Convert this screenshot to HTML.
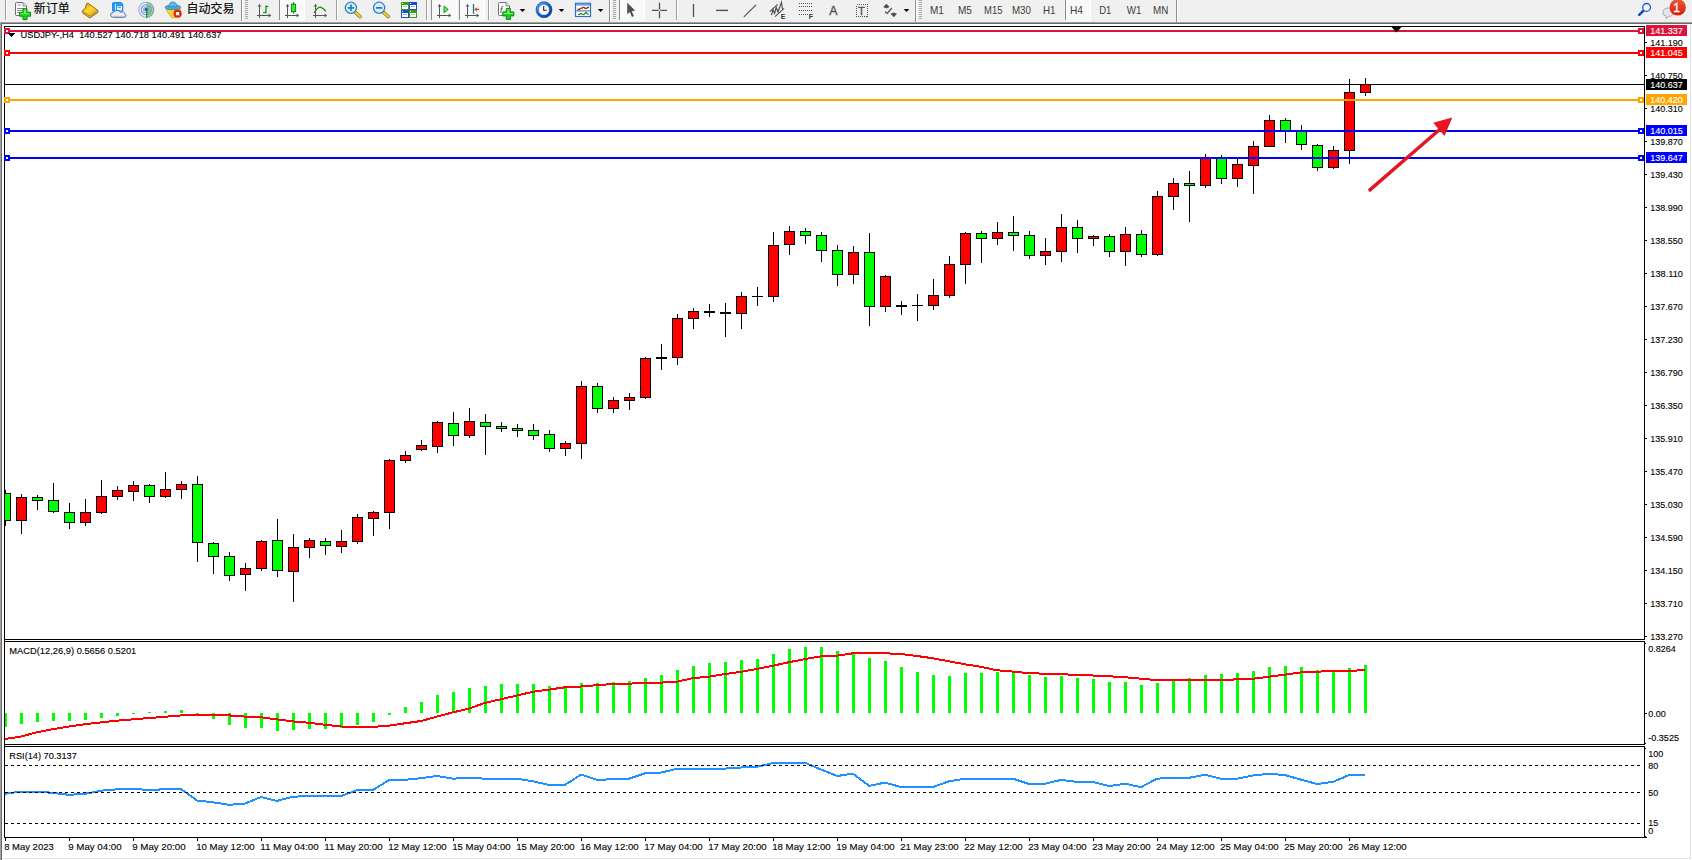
<!DOCTYPE html>
<html lang="zh"><head><meta charset="utf-8"><title>USDJPY H4</title>
<style>html,body{margin:0;padding:0;background:#f0f0f0;width:1692px;height:860px;overflow:hidden}svg{display:block;position:absolute;left:0;top:0}text{font-family:'Liberation Sans', 'Noto Sans CJK SC', sans-serif;}.c{shape-rendering:crispEdges}</style></head><body>
<svg width="1692" height="860" viewBox="0 0 1692 860">
<g class="c">
<rect x="0" y="0" width="1692" height="860" fill="#f0f0f0" />
<rect x="0" y="22" width="1692" height="838" fill="#a0a0a0" />
<rect x="1" y="23" width="1691" height="837" fill="#696969" />
<rect x="2" y="24" width="1690" height="836" fill="#ffffff" />
<rect x="1690" y="24" width="1" height="835" fill="#e3e3e3" />
<rect x="2" y="858" width="1689" height="1" fill="#e3e3e3" />
<rect x="4" y="26" width="1641" height="1" fill="#000" />
<rect x="4" y="26" width="1" height="812" fill="#000" />
<rect x="1644" y="26" width="1" height="812" fill="#000" />
<rect x="4" y="639" width="1641" height="1" fill="#000" />
<rect x="4" y="641" width="1641" height="1" fill="#000" />
<rect x="4" y="744" width="1641" height="1" fill="#000" />
<rect x="4" y="746" width="1641" height="1" fill="#000" />
<rect x="4" y="837" width="1643" height="1" fill="#000" />
<rect x="1645" y="42" width="2" height="1" fill="#000" />
<rect x="1645" y="75" width="2" height="1" fill="#000" />
<rect x="1645" y="108" width="2" height="1" fill="#000" />
<rect x="1645" y="141" width="2" height="1" fill="#000" />
<rect x="1645" y="174" width="2" height="1" fill="#000" />
<rect x="1645" y="207" width="2" height="1" fill="#000" />
<rect x="1645" y="240" width="2" height="1" fill="#000" />
<rect x="1645" y="273" width="2" height="1" fill="#000" />
<rect x="1645" y="306" width="2" height="1" fill="#000" />
<rect x="1645" y="339" width="2" height="1" fill="#000" />
<rect x="1645" y="372" width="2" height="1" fill="#000" />
<rect x="1645" y="405" width="2" height="1" fill="#000" />
<rect x="1645" y="438" width="2" height="1" fill="#000" />
<rect x="1645" y="471" width="2" height="1" fill="#000" />
<rect x="1645" y="504" width="2" height="1" fill="#000" />
<rect x="1645" y="537" width="2" height="1" fill="#000" />
<rect x="1645" y="570" width="2" height="1" fill="#000" />
<rect x="1645" y="603" width="2" height="1" fill="#000" />
<rect x="1645" y="636" width="2" height="1" fill="#000" />
<rect x="1645" y="713" width="2" height="1" fill="#000" />
<rect x="1645" y="643" width="1" height="1" fill="#000" />
<rect x="1645" y="743" width="1" height="1" fill="#000" />
<rect x="1645" y="748" width="1" height="1" fill="#000" />
<rect x="1645" y="836" width="1" height="1" fill="#000" />
<rect x="1644" y="640" width="1" height="1" fill="#fff" />
<rect x="1644" y="745" width="1" height="1" fill="#fff" />
<rect x="5" y="84" width="1639" height="1" fill="#000" />
<rect x="5" y="490" width="1" height="36" fill="#000" />
<rect x="5" y="493" width="6" height="28" fill="#000" />
<rect x="5" y="494" width="5" height="26" fill="#00ff00" />
<rect x="21" y="494" width="1" height="40" fill="#000" />
<rect x="16" y="497" width="11" height="24" fill="#000" />
<rect x="17" y="498" width="9" height="22" fill="#ff0000" />
<rect x="37" y="495" width="1" height="15" fill="#000" />
<rect x="32" y="497" width="11" height="4" fill="#000" />
<rect x="33" y="498" width="9" height="2" fill="#00ff00" />
<rect x="53" y="483" width="1" height="30" fill="#000" />
<rect x="48" y="500" width="11" height="12" fill="#000" />
<rect x="49" y="501" width="9" height="10" fill="#00ff00" />
<rect x="69" y="503" width="1" height="26" fill="#000" />
<rect x="64" y="512" width="11" height="11" fill="#000" />
<rect x="65" y="513" width="9" height="9" fill="#00ff00" />
<rect x="85" y="499" width="1" height="27" fill="#000" />
<rect x="80" y="512" width="11" height="11" fill="#000" />
<rect x="81" y="513" width="9" height="9" fill="#ff0000" />
<rect x="101" y="480" width="1" height="34" fill="#000" />
<rect x="96" y="496" width="11" height="17" fill="#000" />
<rect x="97" y="497" width="9" height="15" fill="#ff0000" />
<rect x="117" y="486" width="1" height="14" fill="#000" />
<rect x="112" y="490" width="11" height="7" fill="#000" />
<rect x="113" y="491" width="9" height="5" fill="#ff0000" />
<rect x="133" y="481" width="1" height="20" fill="#000" />
<rect x="128" y="485" width="11" height="7" fill="#000" />
<rect x="129" y="486" width="9" height="5" fill="#ff0000" />
<rect x="149" y="484" width="1" height="19" fill="#000" />
<rect x="144" y="485" width="11" height="12" fill="#000" />
<rect x="145" y="486" width="9" height="10" fill="#00ff00" />
<rect x="165" y="472" width="1" height="26" fill="#000" />
<rect x="160" y="489" width="11" height="8" fill="#000" />
<rect x="161" y="490" width="9" height="6" fill="#ff0000" />
<rect x="181" y="481" width="1" height="18" fill="#000" />
<rect x="176" y="484" width="11" height="6" fill="#000" />
<rect x="177" y="485" width="9" height="4" fill="#ff0000" />
<rect x="197" y="476" width="1" height="86" fill="#000" />
<rect x="192" y="484" width="11" height="59" fill="#000" />
<rect x="193" y="485" width="9" height="57" fill="#00ff00" />
<rect x="213" y="542" width="1" height="32" fill="#000" />
<rect x="208" y="543" width="11" height="14" fill="#000" />
<rect x="209" y="544" width="9" height="12" fill="#00ff00" />
<rect x="229" y="552" width="1" height="29" fill="#000" />
<rect x="224" y="556" width="11" height="20" fill="#000" />
<rect x="225" y="557" width="9" height="18" fill="#00ff00" />
<rect x="245" y="563" width="1" height="28" fill="#000" />
<rect x="240" y="568" width="11" height="7" fill="#000" />
<rect x="241" y="569" width="9" height="5" fill="#ff0000" />
<rect x="261" y="540" width="1" height="31" fill="#000" />
<rect x="256" y="541" width="11" height="28" fill="#000" />
<rect x="257" y="542" width="9" height="26" fill="#ff0000" />
<rect x="277" y="519" width="1" height="58" fill="#000" />
<rect x="272" y="540" width="11" height="31" fill="#000" />
<rect x="273" y="541" width="9" height="29" fill="#00ff00" />
<rect x="293" y="534" width="1" height="68" fill="#000" />
<rect x="288" y="547" width="11" height="25" fill="#000" />
<rect x="289" y="548" width="9" height="23" fill="#ff0000" />
<rect x="309" y="538" width="1" height="20" fill="#000" />
<rect x="304" y="540" width="11" height="8" fill="#000" />
<rect x="305" y="541" width="9" height="6" fill="#ff0000" />
<rect x="325" y="538" width="1" height="17" fill="#000" />
<rect x="320" y="541" width="11" height="5" fill="#000" />
<rect x="321" y="542" width="9" height="3" fill="#00ff00" />
<rect x="341" y="530" width="1" height="23" fill="#000" />
<rect x="336" y="541" width="11" height="6" fill="#000" />
<rect x="337" y="542" width="9" height="4" fill="#ff0000" />
<rect x="357" y="514" width="1" height="30" fill="#000" />
<rect x="352" y="517" width="11" height="25" fill="#000" />
<rect x="353" y="518" width="9" height="23" fill="#ff0000" />
<rect x="373" y="511" width="1" height="25" fill="#000" />
<rect x="368" y="512" width="11" height="7" fill="#000" />
<rect x="369" y="513" width="9" height="5" fill="#ff0000" />
<rect x="389" y="459" width="1" height="70" fill="#000" />
<rect x="384" y="460" width="11" height="53" fill="#000" />
<rect x="385" y="461" width="9" height="51" fill="#ff0000" />
<rect x="405" y="451" width="1" height="12" fill="#000" />
<rect x="400" y="455" width="11" height="6" fill="#000" />
<rect x="401" y="456" width="9" height="4" fill="#ff0000" />
<rect x="421" y="440" width="1" height="11" fill="#000" />
<rect x="416" y="445" width="11" height="5" fill="#000" />
<rect x="417" y="446" width="9" height="3" fill="#ff0000" />
<rect x="437" y="421" width="1" height="32" fill="#000" />
<rect x="432" y="422" width="11" height="25" fill="#000" />
<rect x="433" y="423" width="9" height="23" fill="#ff0000" />
<rect x="453" y="412" width="1" height="34" fill="#000" />
<rect x="448" y="423" width="11" height="13" fill="#000" />
<rect x="449" y="424" width="9" height="11" fill="#00ff00" />
<rect x="469" y="408" width="1" height="30" fill="#000" />
<rect x="464" y="421" width="11" height="15" fill="#000" />
<rect x="465" y="422" width="9" height="13" fill="#ff0000" />
<rect x="485" y="414" width="1" height="41" fill="#000" />
<rect x="480" y="422" width="11" height="5" fill="#000" />
<rect x="481" y="423" width="9" height="3" fill="#00ff00" />
<rect x="501" y="422" width="1" height="10" fill="#000" />
<rect x="496" y="426" width="11" height="3" fill="#000" />
<rect x="497" y="427" width="9" height="1" fill="#00ff00" />
<rect x="517" y="424" width="1" height="13" fill="#000" />
<rect x="512" y="428" width="11" height="3" fill="#000" />
<rect x="513" y="429" width="9" height="1" fill="#00ff00" />
<rect x="533" y="424" width="1" height="16" fill="#000" />
<rect x="528" y="430" width="11" height="6" fill="#000" />
<rect x="529" y="431" width="9" height="4" fill="#00ff00" />
<rect x="549" y="430" width="1" height="22" fill="#000" />
<rect x="544" y="434" width="11" height="15" fill="#000" />
<rect x="545" y="435" width="9" height="13" fill="#00ff00" />
<rect x="565" y="441" width="1" height="15" fill="#000" />
<rect x="560" y="443" width="11" height="6" fill="#000" />
<rect x="561" y="444" width="9" height="4" fill="#ff0000" />
<rect x="581" y="381" width="1" height="78" fill="#000" />
<rect x="576" y="386" width="11" height="58" fill="#000" />
<rect x="577" y="387" width="9" height="56" fill="#ff0000" />
<rect x="597" y="383" width="1" height="30" fill="#000" />
<rect x="592" y="386" width="11" height="23" fill="#000" />
<rect x="593" y="387" width="9" height="21" fill="#00ff00" />
<rect x="613" y="397" width="1" height="16" fill="#000" />
<rect x="608" y="400" width="11" height="9" fill="#000" />
<rect x="609" y="401" width="9" height="7" fill="#ff0000" />
<rect x="629" y="393" width="1" height="17" fill="#000" />
<rect x="624" y="397" width="11" height="4" fill="#000" />
<rect x="625" y="398" width="9" height="2" fill="#ff0000" />
<rect x="645" y="357" width="1" height="42" fill="#000" />
<rect x="640" y="358" width="11" height="40" fill="#000" />
<rect x="641" y="359" width="9" height="38" fill="#ff0000" />
<rect x="661" y="344" width="1" height="26" fill="#000" />
<rect x="656" y="357" width="11" height="2" fill="#000" />
<rect x="677" y="314" width="1" height="51" fill="#000" />
<rect x="672" y="318" width="11" height="40" fill="#000" />
<rect x="673" y="319" width="9" height="38" fill="#ff0000" />
<rect x="693" y="308" width="1" height="21" fill="#000" />
<rect x="688" y="311" width="11" height="8" fill="#000" />
<rect x="689" y="312" width="9" height="6" fill="#ff0000" />
<rect x="709" y="304" width="1" height="13" fill="#000" />
<rect x="704" y="311" width="11" height="2" fill="#000" />
<rect x="725" y="303" width="1" height="34" fill="#000" />
<rect x="720" y="312" width="11" height="2" fill="#000" />
<rect x="741" y="292" width="1" height="37" fill="#000" />
<rect x="736" y="296" width="11" height="18" fill="#000" />
<rect x="737" y="297" width="9" height="16" fill="#ff0000" />
<rect x="757" y="287" width="1" height="19" fill="#000" />
<rect x="752" y="296" width="11" height="1" fill="#000" />
<rect x="773" y="232" width="1" height="70" fill="#000" />
<rect x="768" y="245" width="11" height="52" fill="#000" />
<rect x="769" y="246" width="9" height="50" fill="#ff0000" />
<rect x="789" y="226" width="1" height="29" fill="#000" />
<rect x="784" y="231" width="11" height="14" fill="#000" />
<rect x="785" y="232" width="9" height="12" fill="#ff0000" />
<rect x="805" y="228" width="1" height="16" fill="#000" />
<rect x="800" y="231" width="11" height="5" fill="#000" />
<rect x="801" y="232" width="9" height="3" fill="#00ff00" />
<rect x="821" y="232" width="1" height="30" fill="#000" />
<rect x="816" y="235" width="11" height="16" fill="#000" />
<rect x="817" y="236" width="9" height="14" fill="#00ff00" />
<rect x="837" y="245" width="1" height="41" fill="#000" />
<rect x="832" y="250" width="11" height="25" fill="#000" />
<rect x="833" y="251" width="9" height="23" fill="#00ff00" />
<rect x="853" y="246" width="1" height="38" fill="#000" />
<rect x="848" y="252" width="11" height="23" fill="#000" />
<rect x="849" y="253" width="9" height="21" fill="#ff0000" />
<rect x="869" y="233" width="1" height="93" fill="#000" />
<rect x="864" y="252" width="11" height="55" fill="#000" />
<rect x="865" y="253" width="9" height="53" fill="#00ff00" />
<rect x="885" y="275" width="1" height="37" fill="#000" />
<rect x="880" y="276" width="11" height="31" fill="#000" />
<rect x="881" y="277" width="9" height="29" fill="#ff0000" />
<rect x="901" y="301" width="1" height="14" fill="#000" />
<rect x="896" y="305" width="11" height="2" fill="#000" />
<rect x="917" y="294" width="1" height="27" fill="#000" />
<rect x="912" y="305" width="11" height="1" fill="#000" />
<rect x="933" y="279" width="1" height="31" fill="#000" />
<rect x="928" y="295" width="11" height="11" fill="#000" />
<rect x="929" y="296" width="9" height="9" fill="#ff0000" />
<rect x="949" y="256" width="1" height="42" fill="#000" />
<rect x="944" y="264" width="11" height="32" fill="#000" />
<rect x="945" y="265" width="9" height="30" fill="#ff0000" />
<rect x="965" y="232" width="1" height="52" fill="#000" />
<rect x="960" y="233" width="11" height="32" fill="#000" />
<rect x="961" y="234" width="9" height="30" fill="#ff0000" />
<rect x="981" y="231" width="1" height="32" fill="#000" />
<rect x="976" y="233" width="11" height="6" fill="#000" />
<rect x="977" y="234" width="9" height="4" fill="#00ff00" />
<rect x="997" y="222" width="1" height="23" fill="#000" />
<rect x="992" y="232" width="11" height="7" fill="#000" />
<rect x="993" y="233" width="9" height="5" fill="#ff0000" />
<rect x="1013" y="216" width="1" height="35" fill="#000" />
<rect x="1008" y="232" width="11" height="4" fill="#000" />
<rect x="1009" y="233" width="9" height="2" fill="#00ff00" />
<rect x="1029" y="231" width="1" height="28" fill="#000" />
<rect x="1024" y="235" width="11" height="21" fill="#000" />
<rect x="1025" y="236" width="9" height="19" fill="#00ff00" />
<rect x="1045" y="238" width="1" height="27" fill="#000" />
<rect x="1040" y="251" width="11" height="5" fill="#000" />
<rect x="1041" y="252" width="9" height="3" fill="#ff0000" />
<rect x="1061" y="214" width="1" height="48" fill="#000" />
<rect x="1056" y="227" width="11" height="25" fill="#000" />
<rect x="1057" y="228" width="9" height="23" fill="#ff0000" />
<rect x="1077" y="220" width="1" height="33" fill="#000" />
<rect x="1072" y="227" width="11" height="12" fill="#000" />
<rect x="1073" y="228" width="9" height="10" fill="#00ff00" />
<rect x="1093" y="235" width="1" height="11" fill="#000" />
<rect x="1088" y="236" width="11" height="3" fill="#000" />
<rect x="1089" y="237" width="9" height="1" fill="#ff0000" />
<rect x="1109" y="234" width="1" height="23" fill="#000" />
<rect x="1104" y="236" width="11" height="16" fill="#000" />
<rect x="1105" y="237" width="9" height="14" fill="#00ff00" />
<rect x="1125" y="227" width="1" height="39" fill="#000" />
<rect x="1120" y="234" width="11" height="18" fill="#000" />
<rect x="1121" y="235" width="9" height="16" fill="#ff0000" />
<rect x="1141" y="230" width="1" height="27" fill="#000" />
<rect x="1136" y="234" width="11" height="21" fill="#000" />
<rect x="1137" y="235" width="9" height="19" fill="#00ff00" />
<rect x="1157" y="191" width="1" height="65" fill="#000" />
<rect x="1152" y="196" width="11" height="59" fill="#000" />
<rect x="1153" y="197" width="9" height="57" fill="#ff0000" />
<rect x="1173" y="178" width="1" height="32" fill="#000" />
<rect x="1168" y="183" width="11" height="14" fill="#000" />
<rect x="1169" y="184" width="9" height="12" fill="#ff0000" />
<rect x="1189" y="171" width="1" height="51" fill="#000" />
<rect x="1184" y="183" width="11" height="3" fill="#000" />
<rect x="1185" y="184" width="9" height="1" fill="#00ff00" />
<rect x="1205" y="154" width="1" height="34" fill="#000" />
<rect x="1200" y="157" width="11" height="29" fill="#000" />
<rect x="1201" y="158" width="9" height="27" fill="#ff0000" />
<rect x="1221" y="155" width="1" height="29" fill="#000" />
<rect x="1216" y="157" width="11" height="22" fill="#000" />
<rect x="1217" y="158" width="9" height="20" fill="#00ff00" />
<rect x="1237" y="159" width="1" height="28" fill="#000" />
<rect x="1232" y="164" width="11" height="15" fill="#000" />
<rect x="1233" y="165" width="9" height="13" fill="#ff0000" />
<rect x="1253" y="141" width="1" height="53" fill="#000" />
<rect x="1248" y="146" width="11" height="20" fill="#000" />
<rect x="1249" y="147" width="9" height="18" fill="#ff0000" />
<rect x="1269" y="115" width="1" height="32" fill="#000" />
<rect x="1264" y="120" width="11" height="27" fill="#000" />
<rect x="1265" y="121" width="9" height="25" fill="#ff0000" />
<rect x="1285" y="118" width="1" height="25" fill="#000" />
<rect x="1280" y="120" width="11" height="12" fill="#000" />
<rect x="1281" y="121" width="9" height="10" fill="#00ff00" />
<rect x="1301" y="125" width="1" height="25" fill="#000" />
<rect x="1296" y="130" width="11" height="15" fill="#000" />
<rect x="1297" y="131" width="9" height="13" fill="#00ff00" />
<rect x="1317" y="144" width="1" height="27" fill="#000" />
<rect x="1312" y="145" width="11" height="23" fill="#000" />
<rect x="1313" y="146" width="9" height="21" fill="#00ff00" />
<rect x="1333" y="146" width="1" height="23" fill="#000" />
<rect x="1328" y="150" width="11" height="18" fill="#000" />
<rect x="1329" y="151" width="9" height="16" fill="#ff0000" />
<rect x="1349" y="79" width="1" height="85" fill="#000" />
<rect x="1344" y="92" width="11" height="59" fill="#000" />
<rect x="1345" y="93" width="9" height="57" fill="#ff0000" />
<rect x="1365" y="78" width="1" height="18" fill="#000" />
<rect x="1360" y="84" width="11" height="9" fill="#000" />
<rect x="1361" y="85" width="9" height="7" fill="#ff0000" />
</g>
<text x="20.5" y="38" font-size="9.8" fill="#000" stroke="#000" stroke-width="0.12" text-anchor="start" textLength="201" lengthAdjust="spacingAndGlyphs" >USDJPY-,H4&#160; 140.527 140.718 140.491 140.637</text>
<g class="c">
<rect x="5" y="30" width="1639" height="2" fill="#dc143c" />
<rect x="4" y="28" width="6" height="6" fill="#dc143c" />
<rect x="6" y="30" width="2" height="2" fill="#fff" />
<rect x="1638" y="28" width="6" height="6" fill="#dc143c" />
<rect x="1640" y="30" width="2" height="2" fill="#fff" />
<rect x="1646" y="25" width="41" height="11" fill="#dc143c" />
<rect x="5" y="52" width="1639" height="2" fill="#ff0000" />
<rect x="4" y="50" width="6" height="6" fill="#ff0000" />
<rect x="6" y="52" width="2" height="2" fill="#fff" />
<rect x="1638" y="50" width="6" height="6" fill="#ff0000" />
<rect x="1640" y="52" width="2" height="2" fill="#fff" />
<rect x="1646" y="47" width="41" height="11" fill="#ff0000" />
<rect x="5" y="99" width="1639" height="2" fill="#ffa500" />
<rect x="4" y="97" width="6" height="6" fill="#ffa500" />
<rect x="6" y="99" width="2" height="2" fill="#fff" />
<rect x="1638" y="97" width="6" height="6" fill="#ffa500" />
<rect x="1640" y="99" width="2" height="2" fill="#fff" />
<rect x="1646" y="94" width="41" height="11" fill="#ffa500" />
<rect x="5" y="130" width="1639" height="2" fill="#0000ff" />
<rect x="4" y="128" width="6" height="6" fill="#0000ff" />
<rect x="6" y="130" width="2" height="2" fill="#fff" />
<rect x="1638" y="128" width="6" height="6" fill="#0000ff" />
<rect x="1640" y="130" width="2" height="2" fill="#fff" />
<rect x="1646" y="125" width="41" height="11" fill="#0000ff" />
<rect x="5" y="157" width="1639" height="2" fill="#0000ff" />
<rect x="4" y="155" width="6" height="6" fill="#0000ff" />
<rect x="6" y="157" width="2" height="2" fill="#fff" />
<rect x="1638" y="155" width="6" height="6" fill="#0000ff" />
<rect x="1640" y="157" width="2" height="2" fill="#fff" />
<rect x="1646" y="152" width="41" height="11" fill="#0000ff" />
<rect x="1646" y="79" width="41" height="11" fill="#000" />
<polygon points="1391.5,27 1401.5,27 1396.5,32.5" fill="#000" shape-rendering="auto"/>
<polygon points="8,33 15,33 11.5,37" fill="#000"/>
<rect x="5" y="713" width="2" height="14" fill="#00ff00" />
<rect x="20" y="713" width="3" height="11" fill="#00ff00" />
<rect x="36" y="713" width="3" height="9" fill="#00ff00" />
<rect x="52" y="713" width="3" height="8" fill="#00ff00" />
<rect x="68" y="713" width="3" height="8" fill="#00ff00" />
<rect x="84" y="713" width="3" height="7" fill="#00ff00" />
<rect x="100" y="713" width="3" height="5" fill="#00ff00" />
<rect x="116" y="713" width="3" height="3" fill="#00ff00" />
<rect x="132" y="713" width="3" height="1" fill="#00ff00" />
<rect x="148" y="712" width="3" height="1" fill="#00ff00" />
<rect x="164" y="711" width="3" height="2" fill="#00ff00" />
<rect x="180" y="710" width="3" height="3" fill="#00ff00" />
<rect x="196" y="713" width="3" height="1" fill="#00ff00" />
<rect x="212" y="713" width="3" height="6" fill="#00ff00" />
<rect x="228" y="713" width="3" height="12" fill="#00ff00" />
<rect x="244" y="713" width="3" height="15" fill="#00ff00" />
<rect x="260" y="713" width="3" height="15" fill="#00ff00" />
<rect x="276" y="713" width="3" height="18" fill="#00ff00" />
<rect x="292" y="713" width="3" height="17" fill="#00ff00" />
<rect x="308" y="713" width="3" height="16" fill="#00ff00" />
<rect x="324" y="713" width="3" height="16" fill="#00ff00" />
<rect x="340" y="713" width="3" height="15" fill="#00ff00" />
<rect x="356" y="713" width="3" height="12" fill="#00ff00" />
<rect x="372" y="713" width="3" height="9" fill="#00ff00" />
<rect x="388" y="713" width="3" height="2" fill="#00ff00" />
<rect x="404" y="707" width="3" height="6" fill="#00ff00" />
<rect x="420" y="702" width="3" height="11" fill="#00ff00" />
<rect x="436" y="695" width="3" height="18" fill="#00ff00" />
<rect x="452" y="692" width="3" height="21" fill="#00ff00" />
<rect x="468" y="688" width="3" height="25" fill="#00ff00" />
<rect x="484" y="686" width="3" height="27" fill="#00ff00" />
<rect x="500" y="684" width="3" height="29" fill="#00ff00" />
<rect x="516" y="684" width="3" height="29" fill="#00ff00" />
<rect x="532" y="684" width="3" height="29" fill="#00ff00" />
<rect x="548" y="686" width="3" height="27" fill="#00ff00" />
<rect x="564" y="687" width="3" height="26" fill="#00ff00" />
<rect x="580" y="683" width="3" height="30" fill="#00ff00" />
<rect x="596" y="683" width="3" height="30" fill="#00ff00" />
<rect x="612" y="682" width="3" height="31" fill="#00ff00" />
<rect x="628" y="681" width="3" height="32" fill="#00ff00" />
<rect x="644" y="678" width="3" height="35" fill="#00ff00" />
<rect x="660" y="675" width="3" height="38" fill="#00ff00" />
<rect x="676" y="670" width="3" height="43" fill="#00ff00" />
<rect x="692" y="666" width="3" height="47" fill="#00ff00" />
<rect x="708" y="663" width="3" height="50" fill="#00ff00" />
<rect x="724" y="662" width="3" height="51" fill="#00ff00" />
<rect x="740" y="660" width="3" height="53" fill="#00ff00" />
<rect x="756" y="659" width="3" height="54" fill="#00ff00" />
<rect x="772" y="654" width="3" height="59" fill="#00ff00" />
<rect x="788" y="649" width="3" height="64" fill="#00ff00" />
<rect x="804" y="647" width="3" height="66" fill="#00ff00" />
<rect x="820" y="647" width="3" height="66" fill="#00ff00" />
<rect x="836" y="651" width="3" height="62" fill="#00ff00" />
<rect x="852" y="652" width="3" height="61" fill="#00ff00" />
<rect x="868" y="658" width="3" height="55" fill="#00ff00" />
<rect x="884" y="661" width="3" height="52" fill="#00ff00" />
<rect x="900" y="667" width="3" height="46" fill="#00ff00" />
<rect x="916" y="672" width="3" height="41" fill="#00ff00" />
<rect x="932" y="675" width="3" height="38" fill="#00ff00" />
<rect x="948" y="676" width="3" height="37" fill="#00ff00" />
<rect x="964" y="673" width="3" height="40" fill="#00ff00" />
<rect x="980" y="673" width="3" height="40" fill="#00ff00" />
<rect x="996" y="672" width="3" height="41" fill="#00ff00" />
<rect x="1012" y="672" width="3" height="41" fill="#00ff00" />
<rect x="1028" y="675" width="3" height="38" fill="#00ff00" />
<rect x="1044" y="677" width="3" height="36" fill="#00ff00" />
<rect x="1060" y="676" width="3" height="37" fill="#00ff00" />
<rect x="1076" y="678" width="3" height="35" fill="#00ff00" />
<rect x="1092" y="679" width="3" height="34" fill="#00ff00" />
<rect x="1108" y="682" width="3" height="31" fill="#00ff00" />
<rect x="1124" y="682" width="3" height="31" fill="#00ff00" />
<rect x="1140" y="685" width="3" height="28" fill="#00ff00" />
<rect x="1156" y="683" width="3" height="30" fill="#00ff00" />
<rect x="1172" y="681" width="3" height="32" fill="#00ff00" />
<rect x="1188" y="678" width="3" height="35" fill="#00ff00" />
<rect x="1204" y="675" width="3" height="38" fill="#00ff00" />
<rect x="1220" y="674" width="3" height="39" fill="#00ff00" />
<rect x="1236" y="673" width="3" height="40" fill="#00ff00" />
<rect x="1252" y="671" width="3" height="42" fill="#00ff00" />
<rect x="1268" y="667" width="3" height="46" fill="#00ff00" />
<rect x="1284" y="666" width="3" height="47" fill="#00ff00" />
<rect x="1300" y="667" width="3" height="46" fill="#00ff00" />
<rect x="1316" y="670" width="3" height="43" fill="#00ff00" />
<rect x="1332" y="671" width="3" height="42" fill="#00ff00" />
<rect x="1348" y="668" width="3" height="45" fill="#00ff00" />
<rect x="1364" y="665" width="3" height="48" fill="#00ff00" />
<polyline points="5,738.9 21,736.6 37,732.2 53,729.2 69,726.5 85,724.2 101,722.4 117,720.7 133,719.3 149,718.0 165,716.8 181,715.4 197,715.0 213,715.0 229,715.4 245,716.6 261,717.3 277,719.4 293,721.4 309,722.8 325,724.8 341,726.5 357,726.9 373,726.9 389,725.6 405,723.3 421,721.0 437,716.6 453,712.3 469,708.6 485,702.9 501,699.2 517,695.5 533,691.8 549,689.6 565,687.3 581,686.5 597,685.2 613,684.0 629,683.6 645,683.1 661,682.6 677,681.7 693,678.1 709,676.7 725,674.0 741,671.9 757,668.9 773,665.7 789,662.2 805,659.1 821,656.3 837,655.6 853,653.3 869,652.9 885,653.3 901,654.0 917,656.0 933,658.3 949,661.3 965,664.3 981,666.8 997,670.3 1013,671.6 1029,673.2 1045,673.7 1061,674.2 1077,674.9 1093,675.5 1109,676.3 1125,677.2 1141,678.7 1157,680.1 1173,680.1 1189,680.1 1205,679.9 1221,679.9 1237,679.4 1253,678.7 1269,676.7 1285,674.6 1301,672.4 1317,671.6 1333,671.2 1349,671.0 1365,670.0" fill="none" stroke="#ff0000" stroke-width="2" stroke-linejoin="round"/>
<polyline points="5,793.8 21,791.5 37,791.5 53,792.9 69,794.8 85,793.8 101,790.7 117,789.3 133,789.0 149,789.9 165,789.3 181,789.0 197,800.5 213,802.3 229,804.8 245,803.5 261,797.0 277,800.9 293,796.7 309,796.1 325,796.1 341,796.1 357,790.2 373,789.9 389,780.1 405,779.8 421,778.2 437,776.0 453,778.7 469,777.8 485,778.7 501,778.7 517,778.7 533,781.3 549,784.9 565,784.9 581,774.6 597,779.9 613,779.2 629,778.7 645,773.4 661,772.5 677,768.9 693,768.6 709,768.6 725,768.6 741,767.5 757,766.8 773,763.1 789,762.7 805,762.7 821,769.5 837,776.0 853,773.7 869,785.9 885,782.6 901,787.0 917,787.0 933,787.0 949,781.3 965,778.7 981,778.7 997,778.7 1013,778.7 1029,784.0 1045,783.7 1061,779.9 1077,781.9 1093,781.9 1109,786.1 1125,783.7 1141,787.2 1157,778.7 1173,777.8 1189,777.8 1205,774.8 1221,778.7 1237,778.7 1253,775.5 1269,773.7 1285,775.1 1301,779.6 1317,784.0 1333,781.9 1349,775.1 1365,775.1" fill="none" stroke="#1e90ff" stroke-width="2" stroke-linejoin="round"/>
<line x1="5" y1="765.5" x2="1642" y2="765.5" stroke="#000" stroke-width="1" stroke-dasharray="3 3"/>
<line x1="5" y1="792.5" x2="1642" y2="792.5" stroke="#000" stroke-width="1" stroke-dasharray="3 3"/>
<line x1="5" y1="823.5" x2="1642" y2="823.5" stroke="#000" stroke-width="1" stroke-dasharray="3 3"/>
<rect x="5" y="838" width="1" height="3" fill="#000" />
<rect x="69" y="838" width="1" height="3" fill="#000" />
<rect x="133" y="838" width="1" height="3" fill="#000" />
<rect x="197" y="838" width="1" height="3" fill="#000" />
<rect x="261" y="838" width="1" height="3" fill="#000" />
<rect x="325" y="838" width="1" height="3" fill="#000" />
<rect x="389" y="838" width="1" height="3" fill="#000" />
<rect x="453" y="838" width="1" height="3" fill="#000" />
<rect x="517" y="838" width="1" height="3" fill="#000" />
<rect x="581" y="838" width="1" height="3" fill="#000" />
<rect x="645" y="838" width="1" height="3" fill="#000" />
<rect x="709" y="838" width="1" height="3" fill="#000" />
<rect x="773" y="838" width="1" height="3" fill="#000" />
<rect x="837" y="838" width="1" height="3" fill="#000" />
<rect x="901" y="838" width="1" height="3" fill="#000" />
<rect x="965" y="838" width="1" height="3" fill="#000" />
<rect x="1029" y="838" width="1" height="3" fill="#000" />
<rect x="1093" y="838" width="1" height="3" fill="#000" />
<rect x="1157" y="838" width="1" height="3" fill="#000" />
<rect x="1221" y="838" width="1" height="3" fill="#000" />
<rect x="1285" y="838" width="1" height="3" fill="#000" />
<rect x="1349" y="838" width="1" height="3" fill="#000" />
</g>
<g fill="#e8141e" stroke="none"><polygon points="1367.7,189.6 1369.9,192.2 1441.6,130.1 1439.4,127.5"/><polygon points="1452.3,117.5 1433.2,122.8 1444.5,135.9"/></g>
<text x="1650.3" y="45.8" font-size="9.8" fill="#000" stroke="#000" stroke-width="0.12" text-anchor="start" textLength="32.6" lengthAdjust="spacingAndGlyphs" >141.190</text>
<text x="1650.3" y="78.8" font-size="9.8" fill="#000" stroke="#000" stroke-width="0.12" text-anchor="start" textLength="32.6" lengthAdjust="spacingAndGlyphs" >140.750</text>
<text x="1650.3" y="111.8" font-size="9.8" fill="#000" stroke="#000" stroke-width="0.12" text-anchor="start" textLength="32.6" lengthAdjust="spacingAndGlyphs" >140.310</text>
<text x="1650.3" y="144.8" font-size="9.8" fill="#000" stroke="#000" stroke-width="0.12" text-anchor="start" textLength="32.6" lengthAdjust="spacingAndGlyphs" >139.870</text>
<text x="1650.3" y="177.8" font-size="9.8" fill="#000" stroke="#000" stroke-width="0.12" text-anchor="start" textLength="32.6" lengthAdjust="spacingAndGlyphs" >139.430</text>
<text x="1650.3" y="210.8" font-size="9.8" fill="#000" stroke="#000" stroke-width="0.12" text-anchor="start" textLength="32.6" lengthAdjust="spacingAndGlyphs" >138.990</text>
<text x="1650.3" y="243.8" font-size="9.8" fill="#000" stroke="#000" stroke-width="0.12" text-anchor="start" textLength="32.6" lengthAdjust="spacingAndGlyphs" >138.550</text>
<text x="1650.3" y="276.8" font-size="9.8" fill="#000" stroke="#000" stroke-width="0.12" text-anchor="start" textLength="32.6" lengthAdjust="spacingAndGlyphs" >138.110</text>
<text x="1650.3" y="309.8" font-size="9.8" fill="#000" stroke="#000" stroke-width="0.12" text-anchor="start" textLength="32.6" lengthAdjust="spacingAndGlyphs" >137.670</text>
<text x="1650.3" y="342.8" font-size="9.8" fill="#000" stroke="#000" stroke-width="0.12" text-anchor="start" textLength="32.6" lengthAdjust="spacingAndGlyphs" >137.230</text>
<text x="1650.3" y="375.8" font-size="9.8" fill="#000" stroke="#000" stroke-width="0.12" text-anchor="start" textLength="32.6" lengthAdjust="spacingAndGlyphs" >136.790</text>
<text x="1650.3" y="408.8" font-size="9.8" fill="#000" stroke="#000" stroke-width="0.12" text-anchor="start" textLength="32.6" lengthAdjust="spacingAndGlyphs" >136.350</text>
<text x="1650.3" y="441.8" font-size="9.8" fill="#000" stroke="#000" stroke-width="0.12" text-anchor="start" textLength="32.6" lengthAdjust="spacingAndGlyphs" >135.910</text>
<text x="1650.3" y="474.8" font-size="9.8" fill="#000" stroke="#000" stroke-width="0.12" text-anchor="start" textLength="32.6" lengthAdjust="spacingAndGlyphs" >135.470</text>
<text x="1650.3" y="507.8" font-size="9.8" fill="#000" stroke="#000" stroke-width="0.12" text-anchor="start" textLength="32.6" lengthAdjust="spacingAndGlyphs" >135.030</text>
<text x="1650.3" y="540.8" font-size="9.8" fill="#000" stroke="#000" stroke-width="0.12" text-anchor="start" textLength="32.6" lengthAdjust="spacingAndGlyphs" >134.590</text>
<text x="1650.3" y="573.8" font-size="9.8" fill="#000" stroke="#000" stroke-width="0.12" text-anchor="start" textLength="32.6" lengthAdjust="spacingAndGlyphs" >134.150</text>
<text x="1650.3" y="606.8" font-size="9.8" fill="#000" stroke="#000" stroke-width="0.12" text-anchor="start" textLength="32.6" lengthAdjust="spacingAndGlyphs" >133.710</text>
<text x="1650.3" y="639.8" font-size="9.8" fill="#000" stroke="#000" stroke-width="0.12" text-anchor="start" textLength="32.6" lengthAdjust="spacingAndGlyphs" >133.270</text>
<g class="c">
<rect x="1646" y="25" width="41" height="11" fill="#dc143c" />
<rect x="1646" y="47" width="41" height="11" fill="#ff0000" />
<rect x="1646" y="94" width="41" height="11" fill="#ffa500" />
<rect x="1646" y="125" width="41" height="11" fill="#0000ff" />
<rect x="1646" y="152" width="41" height="11" fill="#0000ff" />
<rect x="1646" y="79" width="41" height="11" fill="#000" />
</g>
<text x="1650.3" y="34.2" font-size="9.8" fill="#fff" stroke="#fff" stroke-width="0.12" text-anchor="start" textLength="32.6" lengthAdjust="spacingAndGlyphs" >141.337</text>
<text x="1650.3" y="56.2" font-size="9.8" fill="#fff" stroke="#fff" stroke-width="0.12" text-anchor="start" textLength="32.6" lengthAdjust="spacingAndGlyphs" >141.045</text>
<text x="1650.3" y="103.2" font-size="9.8" fill="#fff" stroke="#fff" stroke-width="0.12" text-anchor="start" textLength="32.6" lengthAdjust="spacingAndGlyphs" >140.420</text>
<text x="1650.3" y="134.2" font-size="9.8" fill="#fff" stroke="#fff" stroke-width="0.12" text-anchor="start" textLength="32.6" lengthAdjust="spacingAndGlyphs" >140.015</text>
<text x="1650.3" y="161.2" font-size="9.8" fill="#fff" stroke="#fff" stroke-width="0.12" text-anchor="start" textLength="32.6" lengthAdjust="spacingAndGlyphs" >139.647</text>
<text x="1650.3" y="87.8" font-size="9.8" fill="#fff" stroke="#fff" stroke-width="0.12" text-anchor="start" textLength="32.6" lengthAdjust="spacingAndGlyphs" >140.637</text>
<text x="9.3" y="653.8" font-size="9.8" fill="#000" stroke="#000" stroke-width="0.12" text-anchor="start" textLength="127" lengthAdjust="spacingAndGlyphs" >MACD(12,26,9) 0.5656 0.5201</text>
<text x="9.3" y="758.8" font-size="9.8" fill="#000" stroke="#000" stroke-width="0.12" text-anchor="start" textLength="67.5" lengthAdjust="spacingAndGlyphs" >RSI(14) 70.3137</text>
<text x="1648.2" y="652" font-size="9.8" fill="#000" stroke="#000" stroke-width="0.12" text-anchor="start" textLength="27.6" lengthAdjust="spacingAndGlyphs" >0.8264</text>
<text x="1648.2" y="716.6" font-size="9.8" fill="#000" stroke="#000" stroke-width="0.12" text-anchor="start" textLength="17.6" lengthAdjust="spacingAndGlyphs" >0.00</text>
<text x="1648.2" y="741" font-size="9.8" fill="#000" stroke="#000" stroke-width="0.12" text-anchor="start" textLength="30.8" lengthAdjust="spacingAndGlyphs" >-0.3525</text>
<text x="1648.2" y="757" font-size="9.8" fill="#000" stroke="#000" stroke-width="0.12" text-anchor="start" textLength="15" lengthAdjust="spacingAndGlyphs" >100</text>
<text x="1648.2" y="769" font-size="9.8" fill="#000" stroke="#000" stroke-width="0.12" text-anchor="start" textLength="10" lengthAdjust="spacingAndGlyphs" >80</text>
<text x="1648.2" y="795.6" font-size="9.8" fill="#000" stroke="#000" stroke-width="0.12" text-anchor="start" textLength="10" lengthAdjust="spacingAndGlyphs" >50</text>
<text x="1648.2" y="826.2" font-size="9.8" fill="#000" stroke="#000" stroke-width="0.12" text-anchor="start" textLength="10" lengthAdjust="spacingAndGlyphs" >15</text>
<text x="1648.2" y="834" font-size="9.8" fill="#000" stroke="#000" stroke-width="0.12" text-anchor="start" textLength="5" lengthAdjust="spacingAndGlyphs" >0</text>
<text x="4.2" y="849.7" font-size="9.8" fill="#000" stroke="#000" stroke-width="0.12" text-anchor="start" textLength="49.5" lengthAdjust="spacingAndGlyphs" >8 May 2023</text>
<text x="68.2" y="849.7" font-size="9.8" fill="#000" stroke="#000" stroke-width="0.12" text-anchor="start" textLength="53.5" lengthAdjust="spacingAndGlyphs" >9 May 04:00</text>
<text x="132.2" y="849.7" font-size="9.8" fill="#000" stroke="#000" stroke-width="0.12" text-anchor="start" textLength="53.5" lengthAdjust="spacingAndGlyphs" >9 May 20:00</text>
<text x="196.2" y="849.7" font-size="9.8" fill="#000" stroke="#000" stroke-width="0.12" text-anchor="start" textLength="58.5" lengthAdjust="spacingAndGlyphs" >10 May 12:00</text>
<text x="260.2" y="849.7" font-size="9.8" fill="#000" stroke="#000" stroke-width="0.12" text-anchor="start" textLength="58.5" lengthAdjust="spacingAndGlyphs" >11 May 04:00</text>
<text x="324.2" y="849.7" font-size="9.8" fill="#000" stroke="#000" stroke-width="0.12" text-anchor="start" textLength="58.5" lengthAdjust="spacingAndGlyphs" >11 May 20:00</text>
<text x="388.2" y="849.7" font-size="9.8" fill="#000" stroke="#000" stroke-width="0.12" text-anchor="start" textLength="58.5" lengthAdjust="spacingAndGlyphs" >12 May 12:00</text>
<text x="452.2" y="849.7" font-size="9.8" fill="#000" stroke="#000" stroke-width="0.12" text-anchor="start" textLength="58.5" lengthAdjust="spacingAndGlyphs" >15 May 04:00</text>
<text x="516.2" y="849.7" font-size="9.8" fill="#000" stroke="#000" stroke-width="0.12" text-anchor="start" textLength="58.5" lengthAdjust="spacingAndGlyphs" >15 May 20:00</text>
<text x="580.2" y="849.7" font-size="9.8" fill="#000" stroke="#000" stroke-width="0.12" text-anchor="start" textLength="58.5" lengthAdjust="spacingAndGlyphs" >16 May 12:00</text>
<text x="644.2" y="849.7" font-size="9.8" fill="#000" stroke="#000" stroke-width="0.12" text-anchor="start" textLength="58.5" lengthAdjust="spacingAndGlyphs" >17 May 04:00</text>
<text x="708.2" y="849.7" font-size="9.8" fill="#000" stroke="#000" stroke-width="0.12" text-anchor="start" textLength="58.5" lengthAdjust="spacingAndGlyphs" >17 May 20:00</text>
<text x="772.2" y="849.7" font-size="9.8" fill="#000" stroke="#000" stroke-width="0.12" text-anchor="start" textLength="58.5" lengthAdjust="spacingAndGlyphs" >18 May 12:00</text>
<text x="836.2" y="849.7" font-size="9.8" fill="#000" stroke="#000" stroke-width="0.12" text-anchor="start" textLength="58.5" lengthAdjust="spacingAndGlyphs" >19 May 04:00</text>
<text x="900.2" y="849.7" font-size="9.8" fill="#000" stroke="#000" stroke-width="0.12" text-anchor="start" textLength="58.5" lengthAdjust="spacingAndGlyphs" >21 May 23:00</text>
<text x="964.2" y="849.7" font-size="9.8" fill="#000" stroke="#000" stroke-width="0.12" text-anchor="start" textLength="58.5" lengthAdjust="spacingAndGlyphs" >22 May 12:00</text>
<text x="1028.2" y="849.7" font-size="9.8" fill="#000" stroke="#000" stroke-width="0.12" text-anchor="start" textLength="58.5" lengthAdjust="spacingAndGlyphs" >23 May 04:00</text>
<text x="1092.2" y="849.7" font-size="9.8" fill="#000" stroke="#000" stroke-width="0.12" text-anchor="start" textLength="58.5" lengthAdjust="spacingAndGlyphs" >23 May 20:00</text>
<text x="1156.2" y="849.7" font-size="9.8" fill="#000" stroke="#000" stroke-width="0.12" text-anchor="start" textLength="58.5" lengthAdjust="spacingAndGlyphs" >24 May 12:00</text>
<text x="1220.2" y="849.7" font-size="9.8" fill="#000" stroke="#000" stroke-width="0.12" text-anchor="start" textLength="58.5" lengthAdjust="spacingAndGlyphs" >25 May 04:00</text>
<text x="1284.2" y="849.7" font-size="9.8" fill="#000" stroke="#000" stroke-width="0.12" text-anchor="start" textLength="58.5" lengthAdjust="spacingAndGlyphs" >25 May 20:00</text>
<text x="1348.2" y="849.7" font-size="9.8" fill="#000" stroke="#000" stroke-width="0.12" text-anchor="start" textLength="58.5" lengthAdjust="spacingAndGlyphs" >26 May 12:00</text>
<rect class="c" x="5" y="0" width="1" height="20" fill="#a0a0a0"/>
<rect class="c" x="6" y="0" width="1" height="20" fill="#ffffff"/>
<path d="M15.5 3.5Q15.5 2.5 16.5 2.5H23L26.5 6V14.5Q26.5 15.5 25.5 15.5H16.5Q15.5 15.5 15.5 14.5Z" fill="#fff" stroke="#6e6e6e" stroke-width="1"/>
<path d="M23 2.5V6H26.5" fill="#e8e8e8" stroke="#6e6e6e" stroke-width=".8"/>
<g stroke="#8a8a8a" stroke-width="1"><path d="M17.5 5H20.5M17 8.5H24M17 10.5H22M17 12.5H20"/></g>
<path d="M23.0 8.7H27.0V12.2H30.5V16.2H27.0V19.7H23.0V16.2H19.5V12.2H23.0Z" fill="#20d020" stroke="#0a8a0a" stroke-width="1" stroke-linejoin="round"/>
<path d="M24.0 9.7H26.0V13.2H29.5V14.2H20.5V13.2H24.0Z" fill="#86ff86" opacity=".75"/>
<text x="33.8" y="13" font-size="12" fill="#000" stroke="#000" stroke-width=".12">新订单</text>
<defs><linearGradient id="bk" x1="0" y1="0" x2="1" y2="1"><stop offset="0" stop-color="#c8860e"/><stop offset=".45" stop-color="#ffd92e"/><stop offset="1" stop-color="#d89a10"/></linearGradient></defs>
<path d="M87.8 3.2L98 10.6L97.9 12.4L89.8 18L82.3 12.7L82.4 11.2Q86 9 86.7 3.9Z" fill="#d6bf86" stroke="#9c640c" stroke-width="1" stroke-linejoin="round"/>
<path d="M87.8 3.2L98 10.6L89.9 16.2L82.4 11.2Q86 9 86.7 3.9Z" fill="url(#bk)" stroke="#a8700c" stroke-width=".8" stroke-linejoin="round"/>
<path d="M112.5 3L114.5 2.5H121L122.8 4V11H112.5Z" fill="#18a0f8" stroke="#1078d8" stroke-width=".8"/>
<path d="M115.5 4V11" stroke="#cfeaff" stroke-width="1"/><rect x="117" y="6" width="5" height="4.5" fill="#e4f3ff"/><rect x="117.5" y="6.6" width="3.5" height="1.2" fill="#3aa0f0"/>
<path d="M113.5 17.3Q110.6 17.3 110.6 14.8Q110.6 12.6 113.3 12.6Q114 10.3 117 10.4Q119.6 10.4 120.4 12.3Q122 11.2 123.6 12.2Q125 13 124.6 14Q126.2 14.4 126 15.9Q125.8 17.3 123.8 17.3Z" fill="#e9edf5" stroke="#4a6aa6" stroke-width="1"/>
<path d="M112 16.4H125" stroke="#b7c3dc" stroke-width="1.2"/>
<g fill="none" stroke-width="1.1"><circle cx="146.2" cy="9.7" r="7.5" stroke="#9ab4e4"/><circle cx="146.2" cy="9.7" r="5" stroke="#6f93dc"/><circle cx="146.2" cy="9.7" r="2.8" stroke="#8fb0e8"/></g>
<path d="M146.4 9.7L146.4 17.6A8 8 0 0 0 152.6 5A8 8 0 0 0 146.4 1.9Z" fill="#4aa24a" opacity=".45"/>
<circle cx="146.2" cy="9.5" r="1.8" fill="#2858c8"/><path d="M146.7 10V17.8" stroke="#18a018" stroke-width="1.4"/>
<polygon points="165.6,9 180.4,8.4 175,17.8 171.4,17.4" fill="#f7d53c" stroke="#d8a010" stroke-width=".8" stroke-linejoin="round"/>
<ellipse cx="173" cy="7.3" rx="7.8" ry="2.4" fill="#4ea9da" stroke="#2c86b8" stroke-width=".8"/>
<path d="M169 6.8Q169 2 172.8 2Q176.8 2 176.8 6.8Z" fill="#62b8e4" stroke="#2c86b8" stroke-width=".8"/>
<circle cx="177.6" cy="13.7" r="4.1" fill="#e02406"/><rect x="175.9" y="12.1" width="3.3" height="3.2" fill="#fff"/>
<text x="186.6" y="13" font-size="12" fill="#000" stroke="#000" stroke-width=".12">自动交易</text>
<rect class="c" x="241" y="0" width="1" height="21" fill="#8e8e8e"/>
<rect class="c" x="242" y="0" width="1" height="21" fill="#ffffff"/>
<rect class="c" x="245" y="0" width="3" height="1" fill="#a8a8a8"/>
<rect class="c" x="245" y="2" width="3" height="1" fill="#a8a8a8"/>
<rect class="c" x="245" y="4" width="3" height="1" fill="#a8a8a8"/>
<rect class="c" x="245" y="6" width="3" height="1" fill="#a8a8a8"/>
<rect class="c" x="245" y="8" width="3" height="1" fill="#a8a8a8"/>
<rect class="c" x="245" y="10" width="3" height="1" fill="#a8a8a8"/>
<rect class="c" x="245" y="12" width="3" height="1" fill="#a8a8a8"/>
<rect class="c" x="245" y="14" width="3" height="1" fill="#a8a8a8"/>
<rect class="c" x="245" y="16" width="3" height="1" fill="#a8a8a8"/>
<rect class="c" x="245" y="18" width="3" height="1" fill="#a8a8a8"/>
<g stroke="#555555" stroke-width="1" fill="none"><path d="M259.5 5V18"/><path d="M257 15.5H270"/></g>
<polygon points="257.6,6.6 259.5,4 261.4,6.6" fill="#555555"/><polygon points="268.6,13.6 271.2,15.5 268.6,17.4" fill="#555555"/>
<path d="M266 5.5V13.5M266 6.5H268.5M263 12.5H266" stroke="#0a8a0a" stroke-width="1.2" fill="none"/>
<rect class="c" x="279" y="0" width="25" height="20" fill="#f9f9f9"/>
<rect class="c" x="279" y="0" width="1" height="20" fill="#8c8c8c"/>
<rect class="c" x="279" y="20" width="26" height="1" fill="#ffffff"/>
<rect class="c" x="304" y="0" width="1" height="20" fill="#ffffff"/>
<g stroke="#555555" stroke-width="1" fill="none"><path d="M287.5 5V18"/><path d="M285 15.5H298"/></g>
<polygon points="285.6,6.6 287.5,4 289.4,6.6" fill="#555555"/><polygon points="296.6,13.6 299.2,15.5 296.6,17.4" fill="#555555"/>
<path d="M293.5 2.2V13.6" stroke="#0a8a0a" stroke-width="1.2"/><rect x="291.4" y="4.2" width="4.2" height="7.4" fill="#48e048" stroke="#0a8a0a" stroke-width="1"/>
<g stroke="#555555" stroke-width="1" fill="none"><path d="M315.5 5V18"/><path d="M313 15.5H326"/></g>
<polygon points="313.6,6.6 315.5,4 317.4,6.6" fill="#555555"/><polygon points="324.6,13.6 327.2,15.5 324.6,17.4" fill="#555555"/>
<path d="M314 12.8Q318 7 320.3 7.2Q322.5 7.6 325.8 11.3" fill="none" stroke="#1a8c1a" stroke-width="1.3"/>
<rect class="c" x="336" y="0" width="1" height="20" fill="#a0a0a0"/>
<rect class="c" x="337" y="0" width="1" height="20" fill="#ffffff"/>
<path d="M354.9 12L360.09999999999997 16.6" stroke="#9c7c10" stroke-width="3.6" stroke-linecap="round"/>
<path d="M354.9 12L360.09999999999997 16.6" stroke="#e8cc3a" stroke-width="2.2" stroke-linecap="round"/>
<circle cx="350.9" cy="7.8" r="5.6" fill="#d6effc" stroke="#2f7fc4" stroke-width="1.3"/>
<path d="M347.7 7.9H354.09999999999997" stroke="#2f7fae" stroke-width="1.8"/>
<path d="M350.9 4.6V11.1" stroke="#2f7fae" stroke-width="1.8"/>
<path d="M383.1 12L388.3 16.6" stroke="#9c7c10" stroke-width="3.6" stroke-linecap="round"/>
<path d="M383.1 12L388.3 16.6" stroke="#e8cc3a" stroke-width="2.2" stroke-linecap="round"/>
<circle cx="379.1" cy="7.8" r="5.6" fill="#d6effc" stroke="#2f7fc4" stroke-width="1.3"/>
<path d="M375.90000000000003 7.9H382.3" stroke="#2f7fae" stroke-width="1.8"/>
<rect class="c" x="401" y="2" width="8" height="8" fill="#34a012"/>
<rect class="c" x="402" y="5" width="6" height="4" fill="#fff"/><rect class="c" x="403" y="6" width="4" height="1" fill="#34a012" opacity=".45"/><rect class="c" x="402" y="3" width="1" height="1" fill="#fff"/>
<rect class="c" x="409" y="2" width="8" height="8" fill="#1c4cd2"/>
<rect class="c" x="410" y="5" width="6" height="4" fill="#fff"/><rect class="c" x="411" y="6" width="4" height="1" fill="#1c4cd2" opacity=".45"/><rect class="c" x="410" y="3" width="1" height="1" fill="#fff"/>
<rect class="c" x="401" y="10" width="8" height="8" fill="#1c4cd2"/>
<rect class="c" x="402" y="13" width="6" height="4" fill="#fff"/><rect class="c" x="403" y="14" width="4" height="1" fill="#1c4cd2" opacity=".45"/><rect class="c" x="402" y="11" width="1" height="1" fill="#fff"/>
<rect class="c" x="409" y="10" width="8" height="8" fill="#34a012"/>
<rect class="c" x="410" y="13" width="6" height="4" fill="#fff"/><rect class="c" x="411" y="14" width="4" height="1" fill="#34a012" opacity=".45"/><rect class="c" x="410" y="11" width="1" height="1" fill="#fff"/>
<rect class="c" x="426" y="0" width="1" height="20" fill="#a0a0a0"/>
<rect class="c" x="427" y="0" width="1" height="20" fill="#ffffff"/>
<rect class="c" x="431" y="0" width="25" height="20" fill="#f9f9f9"/>
<rect class="c" x="431" y="0" width="1" height="20" fill="#8c8c8c"/>
<rect class="c" x="431" y="20" width="26" height="1" fill="#ffffff"/>
<rect class="c" x="456" y="0" width="1" height="20" fill="#ffffff"/>
<g stroke="#555555" stroke-width="1" fill="none"><path d="M439.5 5V18"/><path d="M437 15.5H450"/></g>
<polygon points="437.6,6.6 439.5,4 441.4,6.6" fill="#555555"/><polygon points="448.6,13.6 451.2,15.5 448.6,17.4" fill="#555555"/>
<polygon points="444,6 444,12.8 448.2,9.4" fill="#66e066" stroke="#12a012" stroke-width="1"/>
<rect class="c" x="459" y="0" width="25" height="20" fill="#f9f9f9"/>
<rect class="c" x="459" y="0" width="1" height="20" fill="#8c8c8c"/>
<rect class="c" x="459" y="20" width="26" height="1" fill="#ffffff"/>
<rect class="c" x="484" y="0" width="1" height="20" fill="#ffffff"/>
<g stroke="#555555" stroke-width="1" fill="none"><path d="M467.5 5V18"/><path d="M465 15.5H478"/></g>
<polygon points="465.6,6.6 467.5,4 469.4,6.6" fill="#555555"/><polygon points="476.6,13.6 479.2,15.5 476.6,17.4" fill="#555555"/>
<path d="M473.5 4V13.8" stroke="#1070a0" stroke-width="1.3"/><path d="M475 9.4H479.2" stroke="#d84000" stroke-width="1.2"/><polygon points="474.4,9.4 477.2,7 476.6,9.4 477.2,11.8" fill="#d84000"/>
<rect class="c" x="488" y="0" width="1" height="20" fill="#a0a0a0"/>
<rect class="c" x="489" y="0" width="1" height="20" fill="#ffffff"/>
<path d="M498.5 3.5Q498.5 2.5 499.5 2.5H506L509.5 6V14.5Q509.5 15.5 508.5 15.5H499.5Q498.5 15.5 498.5 14.5Z" fill="#fff" stroke="#6e6e6e" stroke-width="1"/>
<path d="M506 2.5V6H509.5" fill="#e8e8e8" stroke="#6e6e6e" stroke-width=".8"/>
<text x="500" y="12.5" font-size="9" font-style="italic" fill="#444" font-family="'Liberation Serif',serif">f</text>
<path d="M506.3 8.4H510.3V11.9H513.8V15.9H510.3V19.4H506.3V15.9H502.8V11.9H506.3Z" fill="#20d020" stroke="#0a8a0a" stroke-width="1" stroke-linejoin="round"/>
<path d="M507.3 9.4H509.3V12.9H512.8V13.9H503.8V12.9H507.3Z" fill="#86ff86" opacity=".75"/>
<polygon points="519.7,9 525.3000000000001,9 522.5,12" fill="#000"/>
<defs><linearGradient id="ck" x1="0" y1="0" x2="1" y2="1"><stop offset="0" stop-color="#58a0ee"/><stop offset=".5" stop-color="#1664cc"/><stop offset="1" stop-color="#0a3c94"/></linearGradient></defs><circle cx="544" cy="9.7" r="6.65" fill="#f6f9fc" stroke="url(#ck)" stroke-width="2.8"/><circle cx="544" cy="9.7" r="8" fill="none" stroke="#0c3f96" stroke-width=".6"/>
<path d="M543.7 6V10.2H546.6" fill="none" stroke="#222" stroke-width="1.1"/>
<g fill="#9ab"><circle cx="544" cy="4.8" r=".5"/><circle cx="544" cy="14.6" r=".5"/><circle cx="539.1" cy="9.7" r=".5"/><circle cx="548.9" cy="9.7" r=".5"/></g>
<polygon points="558.7,9 564.3000000000001,9 561.5,12" fill="#000"/>
<rect x="575.5" y="3.3" width="15" height="13.2" fill="#fff" stroke="#2f6fc0" stroke-width="1.2"/><rect x="576" y="3.6" width="14" height="2" fill="#5aa4ea"/><path d="M576 10.9H590" stroke="#2f6fc0" stroke-width="1"/>
<path d="M577.5 9.5H579L581 8.2H582L583 7.4H584L585.3 8.4H586.5L588 7.4H589" fill="none" stroke="#a02000" stroke-width="1.3"/>
<path d="M578 14.5H579.5L581 13.4L582.5 14.5H584L586 12.3L588.5 14.6" fill="none" stroke="#0a8a0a" stroke-width="1.2"/>
<polygon points="597.8,9 603.4,9 600.5999999999999,12" fill="#000"/>
<rect class="c" x="609" y="0" width="1" height="22" fill="#8e8e8e"/>
<rect class="c" x="610" y="0" width="1" height="22" fill="#ffffff"/>
<rect class="c" x="613" y="0" width="3" height="1" fill="#a8a8a8"/>
<rect class="c" x="613" y="2" width="3" height="1" fill="#a8a8a8"/>
<rect class="c" x="613" y="4" width="3" height="1" fill="#a8a8a8"/>
<rect class="c" x="613" y="6" width="3" height="1" fill="#a8a8a8"/>
<rect class="c" x="613" y="8" width="3" height="1" fill="#a8a8a8"/>
<rect class="c" x="613" y="10" width="3" height="1" fill="#a8a8a8"/>
<rect class="c" x="613" y="12" width="3" height="1" fill="#a8a8a8"/>
<rect class="c" x="613" y="14" width="3" height="1" fill="#a8a8a8"/>
<rect class="c" x="613" y="16" width="3" height="1" fill="#a8a8a8"/>
<rect class="c" x="613" y="18" width="3" height="1" fill="#a8a8a8"/>
<rect class="c" x="619" y="0" width="25" height="20" fill="#f9f9f9"/>
<rect class="c" x="619" y="0" width="1" height="20" fill="#8c8c8c"/>
<rect class="c" x="619" y="20" width="26" height="1" fill="#ffffff"/>
<rect class="c" x="644" y="0" width="1" height="20" fill="#ffffff"/>
<polygon points="627.2,2.8 627.2,14.2 629.8,11.9 632,16.9 633.9,16 631.7,11.3 635.1,10.4" fill="#505050"/>
<path d="M652 10.4H658.6M660.4 10.4H667M659.5 2.8V9.5M659.5 11.3V18.2" stroke="#505050" stroke-width="1.3"/>
<rect class="c" x="676" y="0" width="1" height="20" fill="#a0a0a0"/>
<rect class="c" x="677" y="0" width="1" height="20" fill="#ffffff"/>
<path d="M693.5 4V17" stroke="#505050" stroke-width="1.3"/>
<path d="M716 10.4H728" stroke="#505050" stroke-width="1.4"/>
<path d="M743.9 16.9L756 4.8" stroke="#505050" stroke-width="1.2"/>
<g stroke="#505050" fill="none"><path d="M769.8 11.7L777.7 4.4M775 16.7L784 8.4" stroke-width="1.1"/><path d="M771.5 15.2L773 9.5L774.6 13.4L776.2 7.5L778 12L781.4 2.4L782.5 9" stroke-width="1.2"/></g>
<text x="780.8" y="18.8" font-size="6.8" font-weight="bold" fill="#333">E</text>
<rect class="c" x="799" y="3" width="1" height="1" fill="#505050"/>
<rect class="c" x="801" y="3" width="1" height="1" fill="#505050"/>
<rect class="c" x="803" y="3" width="1" height="1" fill="#505050"/>
<rect class="c" x="805" y="3" width="1" height="1" fill="#505050"/>
<rect class="c" x="807" y="3" width="1" height="1" fill="#505050"/>
<rect class="c" x="809" y="3" width="1" height="1" fill="#505050"/>
<rect class="c" x="811" y="3" width="1" height="1" fill="#505050"/>
<rect class="c" x="799" y="6" width="1" height="1" fill="#505050"/>
<rect class="c" x="801" y="6" width="1" height="1" fill="#505050"/>
<rect class="c" x="803" y="6" width="1" height="1" fill="#505050"/>
<rect class="c" x="805" y="6" width="1" height="1" fill="#505050"/>
<rect class="c" x="807" y="6" width="1" height="1" fill="#505050"/>
<rect class="c" x="809" y="6" width="1" height="1" fill="#505050"/>
<rect class="c" x="811" y="6" width="1" height="1" fill="#505050"/>
<rect class="c" x="799" y="10" width="1" height="1" fill="#505050"/>
<rect class="c" x="801" y="10" width="1" height="1" fill="#505050"/>
<rect class="c" x="803" y="10" width="1" height="1" fill="#505050"/>
<rect class="c" x="805" y="10" width="1" height="1" fill="#505050"/>
<rect class="c" x="807" y="10" width="1" height="1" fill="#505050"/>
<rect class="c" x="809" y="10" width="1" height="1" fill="#505050"/>
<rect class="c" x="811" y="10" width="1" height="1" fill="#505050"/>
<rect class="c" x="799" y="14" width="1" height="1" fill="#505050"/>
<rect class="c" x="801" y="14" width="1" height="1" fill="#505050"/>
<rect class="c" x="803" y="14" width="1" height="1" fill="#505050"/>
<rect class="c" x="805" y="14" width="1" height="1" fill="#505050"/>
<rect class="c" x="807" y="14" width="1" height="1" fill="#505050"/>
<text x="808.8" y="18.9" font-size="6.8" font-weight="bold" fill="#333">F</text>
<text x="829.3" y="14.9" font-size="12.4" fill="#555" stroke="#555" stroke-width=".35">A</text>
<rect x="856.5" y="4.5" width="11" height="12" fill="none" stroke="#505050" stroke-width="1" stroke-dasharray="1 1" shape-rendering="crispEdges"/>
<text x="858" y="14.9" font-size="11.2" fill="#505050" stroke="#505050" stroke-width=".3">T</text>
<polygon points="886.4,3.8 889.6,7 886.4,8.4 883.2,7" fill="#505050"/><polygon points="893.8,17.2 897,13.8 893.8,12.6 890.6,13.8" fill="#505050"/>
<path d="M885 11.8L887.2 13.4L891.8 8" fill="none" stroke="#505050" stroke-width="1.3"/>
<polygon points="903.7,9 909.3000000000001,9 906.5,12" fill="#000"/>
<rect class="c" x="915" y="0" width="1" height="22" fill="#8e8e8e"/>
<rect class="c" x="916" y="0" width="1" height="22" fill="#ffffff"/>
<rect class="c" x="919" y="0" width="3" height="1" fill="#a8a8a8"/>
<rect class="c" x="919" y="2" width="3" height="1" fill="#a8a8a8"/>
<rect class="c" x="919" y="4" width="3" height="1" fill="#a8a8a8"/>
<rect class="c" x="919" y="6" width="3" height="1" fill="#a8a8a8"/>
<rect class="c" x="919" y="8" width="3" height="1" fill="#a8a8a8"/>
<rect class="c" x="919" y="10" width="3" height="1" fill="#a8a8a8"/>
<rect class="c" x="919" y="12" width="3" height="1" fill="#a8a8a8"/>
<rect class="c" x="919" y="14" width="3" height="1" fill="#a8a8a8"/>
<rect class="c" x="919" y="16" width="3" height="1" fill="#a8a8a8"/>
<rect class="c" x="919" y="18" width="3" height="1" fill="#a8a8a8"/>
<rect class="c" x="1065" y="0" width="25" height="20" fill="#f9f9f9"/>
<rect class="c" x="1065" y="0" width="1" height="20" fill="#8c8c8c"/>
<rect class="c" x="1065" y="20" width="26" height="1" fill="#ffffff"/>
<rect class="c" x="1090" y="0" width="1" height="20" fill="#ffffff"/>
<text x="930.0" y="14.1" font-size="10.3" fill="#3c3c3c" textLength="13.9" lengthAdjust="spacingAndGlyphs">M1</text>
<text x="958.0" y="14.1" font-size="10.3" fill="#3c3c3c" textLength="13.9" lengthAdjust="spacingAndGlyphs">M5</text>
<text x="984.1" y="14.1" font-size="10.3" fill="#3c3c3c" textLength="18.3" lengthAdjust="spacingAndGlyphs">M15</text>
<text x="1011.9" y="14.1" font-size="10.3" fill="#3c3c3c" textLength="19.0" lengthAdjust="spacingAndGlyphs">M30</text>
<text x="1042.9" y="14.1" font-size="10.3" fill="#3c3c3c" textLength="12.5" lengthAdjust="spacingAndGlyphs">H1</text>
<text x="1070.0" y="14.1" font-size="10.3" fill="#3c3c3c" textLength="13.0" lengthAdjust="spacingAndGlyphs">H4</text>
<text x="1099.2" y="14.1" font-size="10.3" fill="#3c3c3c" textLength="12.1" lengthAdjust="spacingAndGlyphs">D1</text>
<text x="1126.7" y="14.1" font-size="10.3" fill="#3c3c3c" textLength="14.7" lengthAdjust="spacingAndGlyphs">W1</text>
<text x="1153.1000000000001" y="14.1" font-size="10.3" fill="#3c3c3c" textLength="15.3" lengthAdjust="spacingAndGlyphs">MN</text>
<rect class="c" x="1176" y="0" width="1" height="22" fill="#8e8e8e"/>
<rect class="c" x="1177" y="0" width="1" height="22" fill="#ffffff"/>
<path d="M1643.4 10.8L1639.2 14.9" stroke="#1c4cc8" stroke-width="2.6" stroke-linecap="round"/><circle cx="1646.6" cy="7.4" r="3.9" fill="#f4f4ff" stroke="#2454d4" stroke-width="1.3"/>
<path d="M1663 12.4Q1663 8 1668.3 8Q1673.6 8 1673.6 12.4Q1673.6 16.4 1668.6 16.4L1666.6 18.6L1666.2 16.2Q1663 15.6 1663 12.4Z" fill="#e4e4ec" stroke="#a4a4a4" stroke-width=".9"/>
<defs><linearGradient id="bd" x1="0" y1="0" x2="0" y2="1"><stop offset="0" stop-color="#e8583a"/><stop offset="1" stop-color="#d81c08"/></linearGradient></defs>
<circle cx="1677.7" cy="7.4" r="8.2" fill="url(#bd)"/>
<text x="1676.5" y="12" font-size="12" fill="#fff" text-anchor="middle" stroke="#fff" stroke-width=".35">1</text>
</svg></body></html>
